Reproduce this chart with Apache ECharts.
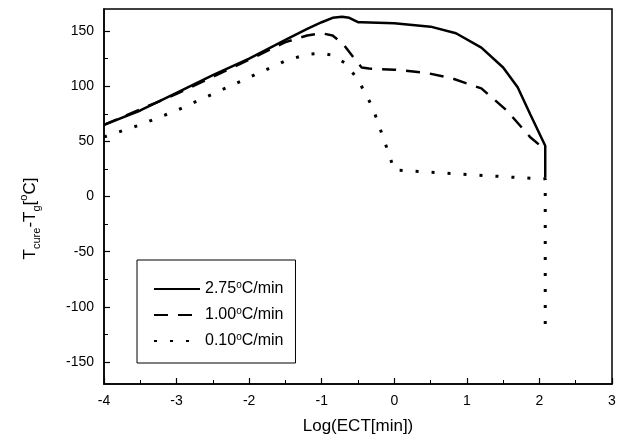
<!DOCTYPE html>
<html>
<head>
<meta charset="utf-8">
<script src="https://cdn.jsdelivr.net/npm/echarts@6/dist/echarts.min.js"></script>
<style>html,body{margin:0;padding:0;background:#fff;}#c{width:623px;height:440px;}</style>
</head>
<body>
<div id="c"></div>
<script>
const seriesNames = ['2.75', '1.00', '0.10'];
const xTickLabels = [-4, -3, -2, -1, 0, 1, 2, 3];
const yTicks = [-150, -100, -50, 0, 50, 100, 150];
const yMinorTicks = [-125, -75, -25, 25, 75, 125];

const x275 = [-4, -3.5, -3, -2.5, -2, -1.5, -1.2, -1.0, -0.85, -0.72, -0.62, -0.5, -0.45, 0, 0.5, 0.85, 1.2, 1.5, 1.7, 1.87, 2.08, 2.08];
const y275 = [65, 78, 94, 110, 125, 142, 152, 158, 162, 163, 162, 158, 158, 157, 154, 148, 135, 117, 99, 75, 46, 17];

const x100 = [-4, -3, -2, -1.5, -1.2, -1.0, -0.85, -0.7, -0.55, -0.45, -0.35, 0, 0.45, 0.8, 1.2, 1.55, 1.87, 2.05];
const y100 = [65, 93, 124, 140, 146, 148, 146, 138, 125, 117, 116, 115, 112, 107, 98, 78, 54, 44];

const x010 = [-4, -3.5, -3, -2.5, -2, -1.5, -1.2, -1.0, -0.85, -0.68, -0.5, -0.3, -0.15, 0, 0.5, 1.0, 1.5, 2.0, 2.08, 2.08];
const y010 = [54, 65, 78, 93, 108, 123, 129, 130, 128, 121, 106, 81, 53, 24, 22, 20, 18, 16, 16, -127];

const pairs = (xs, ys) => xs.map((x, i) => [x, ys[i]]);
const FONT = 'Liberation Sans, Arial, sans-serif';

const chart = echarts.init(document.getElementById('c'), null, {renderer: 'canvas'});
chart.setOption({
  backgroundColor: '#fff',
  animation: false,
  grid: {left: 104, right: 11, top: 9, bottom: 56, show: true, borderColor: '#000', borderWidth: 1.5, backgroundColor: 'transparent'},
  legend: {
    orient: 'vertical', left: 137, top: 260,
    padding: [20, 12, 14, 16], itemGap: 9, itemWidth: 46, itemHeight: 14,
    itemStyle: {color: 'rgba(0,0,0,0)', borderColor: 'rgba(0,0,0,0)', borderWidth: 0, opacity: 0},
    borderColor: '#000', borderWidth: 1, backgroundColor: '#fff',
    data: seriesNames,
    formatter: n => `{a|${n}}{s|o}{a|C/min}`,
    textStyle: {
      fontFamily: FONT, fontSize: 16, color: '#000',
      rich: {
        a: {fontFamily: FONT, fontSize: 16, color: '#000', lineHeight: 18},
        s: {fontFamily: FONT, fontSize: 10, color: '#000', lineHeight: 18, verticalAlign: 'top', padding: [0, 0, 7, 0]}
      }
    }
  },
  xAxis: {
    type: 'value', min: -4, max: 3, interval: 1,
    name: 'Log(ECT[min])', nameLocation: 'middle', nameGap: 34,
    nameTextStyle: {fontFamily: FONT, fontSize: 17, color: '#000'},
    axisLine: {onZero: false, lineStyle: {color: '#000', width: 1.5}},
    axisTick: {inside: true, length: 6, lineStyle: {color: '#000', width: 1.2}},
    minorTick: {show: true, splitNumber: 2, length: 4, lineStyle: {color: '#000', width: 1}},
    axisLabel: {fontFamily: FONT, fontSize: 14, color: '#000', margin: 10,
      customValues: xTickLabels},
    splitLine: {show: false}
  },
  yAxis: [{
    type: 'value', min: -170, max: 170,
    name: '{n|T}{s|cure}{n|-T}{s|g}{n|[}{o|o}{n|C]}', nameLocation: 'middle', nameGap: 62, nameRotate: 90,
    nameTextStyle: {fontFamily: FONT, fontSize: 17, color: '#000', padding: [0, 44, 0, 0],
      rich: {
        n: {fontFamily: FONT, fontSize: 17, color: '#000', lineHeight: 24},
        s: {fontFamily: FONT, fontSize: 11, color: '#000', lineHeight: 24, verticalAlign: 'bottom', padding: [7, 0, 0, 0]},
        o: {fontFamily: FONT, fontSize: 11, color: '#000', lineHeight: 24, verticalAlign: 'top', padding: [0, 0, 9, 0]}
      }},
    axisLine: {onZero: false, lineStyle: {color: '#000', width: 1.5}},
    axisTick: {inside: true, length: 6, customValues: yTicks, lineStyle: {color: '#000', width: 1.2}},
    axisLabel: {fontFamily: FONT, fontSize: 14, color: '#000', margin: 10, customValues: yTicks},
    splitLine: {show: false}
  }, {
    type: 'value', min: -170, max: 170, position: 'left',
    axisLine: {show: false, onZero: false},
    axisTick: {show: true, inside: true, length: 4, customValues: yMinorTicks, lineStyle: {color: '#000', width: 1}},
    axisLabel: {show: false},
    splitLine: {show: false}
  }],
  series: [
    {name: seriesNames[0], type: 'line', data: pairs(x275, y275), showSymbol: false, symbol: 'none',
      lineStyle: {color: '#000', width: 2.5, type: 'solid'}, itemStyle: {color: '#000'}, z: 3},
    {name: seriesNames[1], type: 'line', data: pairs(x100, y100), showSymbol: false, symbol: 'none',
      lineStyle: {color: '#000', width: 2.5, type: [14, 10]}, itemStyle: {color: '#000'}, z: 2},
    {name: seriesNames[2], type: 'line', data: pairs(x010, y010), showSymbol: false, symbol: 'none',
      lineStyle: {color: '#000', width: 3, type: [3, 13]}, itemStyle: {color: '#000'}, z: 1}
  ]
});
</script>
</body>
</html>
